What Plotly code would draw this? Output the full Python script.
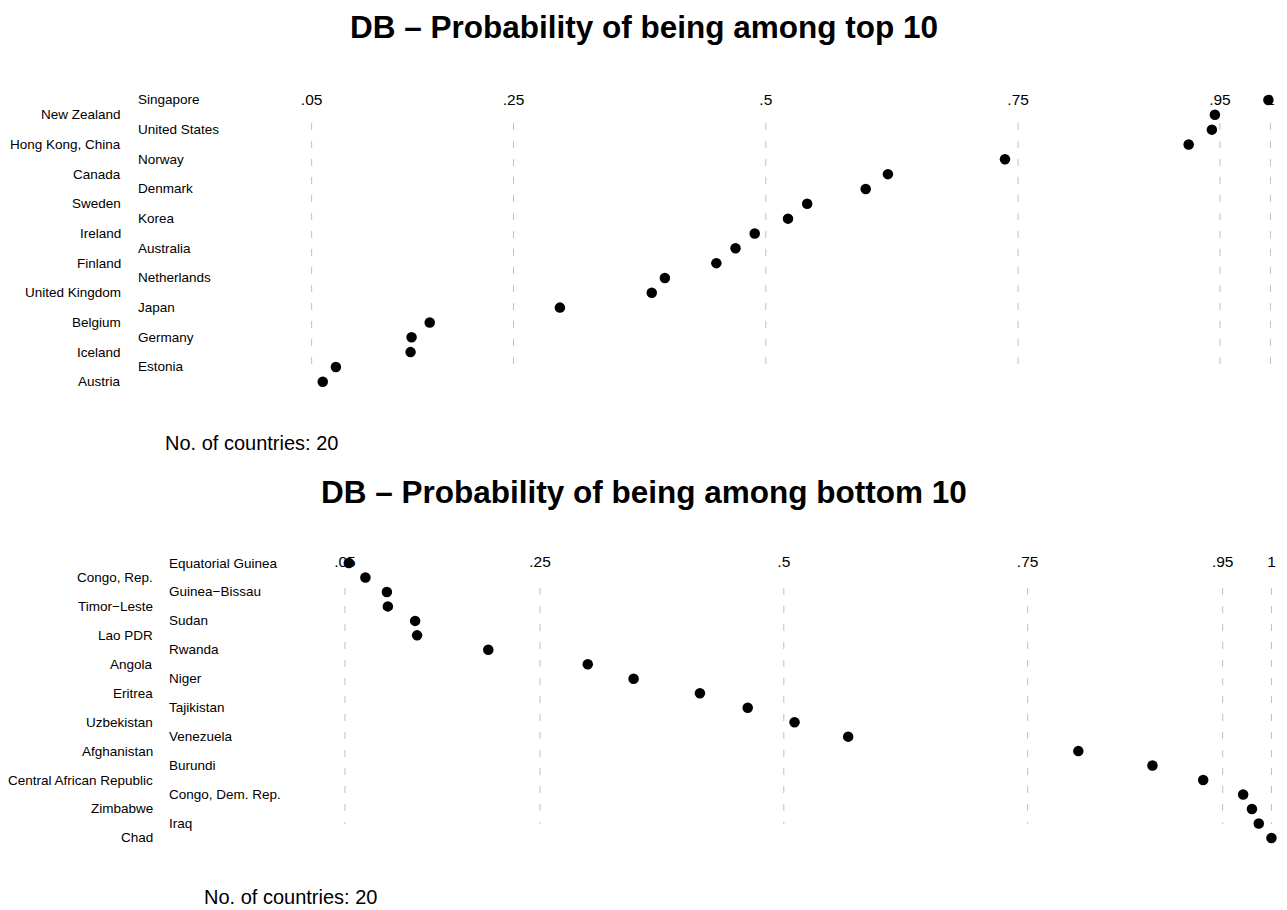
import plotly.graph_objects as go

# Probability of being among the top 10 (Doing Business ranking)
top_countries = [
    "Singapore", "New Zealand", "United States", "Hong Kong, China", "Norway",
    "Canada", "Denmark", "Sweden", "Korea", "Ireland",
    "Australia", "Finland", "Netherlands", "United Kingdom", "Japan",
    "Belgium", "Germany", "Iceland", "Estonia", "Austria",
]
top_probs = [
    0.998, 0.945, 0.942, 0.919, 0.737,
    0.621, 0.599, 0.541, 0.522, 0.489,
    0.470, 0.451, 0.400, 0.387, 0.296,
    0.167, 0.149, 0.148, 0.074, 0.061,
]

# Probability of being among the bottom 10
bottom_countries = [
    "Equatorial Guinea", "Congo, Rep.", "Guinea\u2212Bissau", "Timor\u2212Leste", "Sudan",
    "Lao PDR", "Rwanda", "Angola", "Niger", "Eritrea",
    "Tajikistan", "Uzbekistan", "Venezuela", "Afghanistan", "Burundi",
    "Central African Republic", "Congo, Dem. Rep.", "Zimbabwe", "Iraq", "Chad",
]
bottom_probs = [
    0.054, 0.071, 0.093, 0.094, 0.122,
    0.124, 0.197, 0.299, 0.346, 0.414,
    0.463, 0.511, 0.566, 0.802, 0.878,
    0.930, 0.971, 0.980, 0.987, 1.000,
]

tick_values = [0.05, 0.25, 0.5, 0.75, 0.95, 1.0]
tick_labels = [".05", ".25", ".5", ".75", ".95", "1"]

panel_titles = [
    "DB \u2013 Probability of being among top 10",
    "DB \u2013 Probability of being among bottom 10",
]
count_note = "No. of countries: {}"

W, H = 1287, 910
FONT = "Liberation Sans, Arial, Helvetica, sans-serif"
GRID = "#c0c0c0"


def px_x(p):
    return p / W


def px_y(p):
    return 1 - p / H


fig = go.Figure()

# per-panel geometry in pixels: plotting box, first row, row step,
# extent of the dashed reference lines, label columns, text positions
panels = [
    dict(countries=top_countries, probs=top_probs, xa="x", ya="y",
         x_lo=251.1, x_hi=1280.5, y_top=88, y_bot=394,
         row1=100.0, step=14.83, line_top=123, line_bot=368, standoff=15,
         col_left=123, col_right=136,
         title_y=27, note_x=163, note_y=443),
    dict(countries=bottom_countries, probs=bottom_probs, xa="x2", ya="y2",
         x_lo=286.4, x_hi=1281.2, y_top=551, y_bot=850,
         row1=563.0, step=14.47, line_top=588, line_bot=824, standoff=18,
         col_left=155, col_right=167,
         title_y=492, note_x=202, note_y=897),
]

annotations = []
shapes = []
for k, p in enumerate(panels):
    rows = list(range(1, len(p["countries"]) + 1))

    # dashed vertical reference lines at the tick values
    for v in tick_values:
        shapes.append(dict(
            type="line", xref=p["xa"], yref="paper",
            x0=v, x1=v, y0=px_y(p["line_top"]), y1=px_y(p["line_bot"]),
            line=dict(color=GRID, width=1, dash="7px,11px"), layer="below",
        ))

    fig.add_trace(go.Scatter(
        x=p["probs"], y=rows, mode="markers",
        marker=dict(color="black", size=10.5, line=dict(width=0)),
        cliponaxis=False, showlegend=False, hoverinfo="skip",
        xaxis=p["xa"], yaxis=p["ya"],
    ))

    # country names in two staggered columns
    for i, name in zip(rows, p["countries"]):
        left = (i % 2 == 0)
        annotations.append(dict(
            text=name, xref="paper", yref=p["ya"],
            x=px_x(p["col_left"] if left else p["col_right"]), y=i,
            xanchor="right" if left else "left", yanchor="middle",
            showarrow=False, font=dict(family=FONT, size=13.5, color="black"),
        ))

    annotations.append(dict(
        text="<b>" + panel_titles[k] + "</b>", xref="paper", yref="paper",
        x=0.5, y=px_y(p["title_y"]), xanchor="center", yanchor="middle",
        showarrow=False, font=dict(family=FONT, size=31.5, color="black"),
    ))
    annotations.append(dict(
        text=count_note.format(len(p["countries"])), xref="paper", yref="paper",
        x=px_x(p["note_x"]), y=px_y(p["note_y"]), xanchor="left", yanchor="middle",
        showarrow=False, font=dict(family=FONT, size=20, color="black"),
    ))

    # y range chosen so row 1 sits at row1 pixel and rows step evenly
    r_top = 1 + (p["y_top"] - p["row1"]) / p["step"]
    r_bot = 1 + (p["y_bot"] - p["row1"]) / p["step"]
    suffix = "" if k == 0 else "2"
    fig.update_layout(**{
        "xaxis" + suffix: dict(
            domain=[px_x(p["x_lo"]), px_x(p["x_hi"])], range=[-0.01, 1.01],
            anchor="free", position=px_y(p["line_top"]), side="top",
            tickmode="array", tickvals=tick_values, ticktext=tick_labels,
            ticks="", ticklabelstandoff=p["standoff"],
            tickfont=dict(family=FONT, size=15.5, color="black"),
            showgrid=False, zeroline=False, showline=False, fixedrange=True,
        ),
        "yaxis" + suffix: dict(
            domain=[px_y(p["y_bot"]), px_y(p["y_top"])], range=[r_bot, r_top],
            anchor="x" + suffix, visible=False, showgrid=False,
            zeroline=False, fixedrange=True,
        ),
    })

fig.update_layout(
    width=W, height=H, margin=dict(l=0, r=0, t=0, b=0),
    paper_bgcolor="white", plot_bgcolor="white",
    annotations=annotations, shapes=shapes, showlegend=False,
)

fig.write_html("out.html", config={"displayModeBar": False})
